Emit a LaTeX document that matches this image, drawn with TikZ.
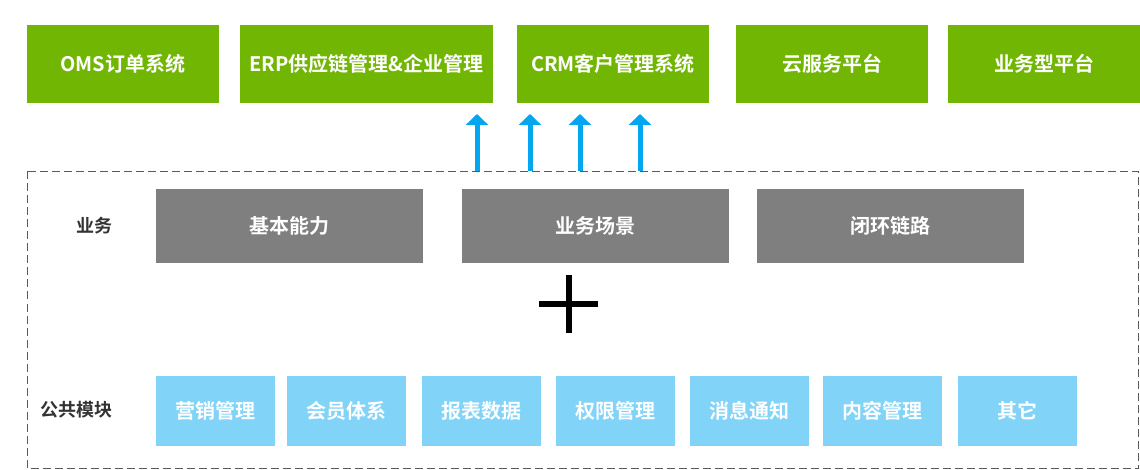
\documentclass[tikz,border=0pt]{standalone}
\usepackage{fontspec}
\newfontfamily\cjk{Noto Sans CJK SC Bold}
\usetikzlibrary{arrows.meta}
\definecolor{sysgreen}{HTML}{70B603}
\definecolor{bizgray}{HTML}{7F7F7F}
\definecolor{modblue}{HTML}{81D3F8}
\definecolor{uparrow}{HTML}{02A7F0}
\definecolor{labeltext}{HTML}{333333}
\definecolor{framegray}{HTML}{595959}

\begin{document}
\begin{tikzpicture}[x=1pt,y=-1pt,
  boxtext/.style={inner sep=0pt, text=white, font=\cjk\fontsize{20}{20}\selectfont},
  sysbox/.style={boxtext, fill=sysgreen, minimum height=78pt, minimum width=#1},
  bizbox/.style={boxtext, fill=bizgray, minimum height=74pt, minimum width=267pt},
  modbox/.style={boxtext, fill=modblue, minimum height=70pt, minimum width=119pt},
  rowlabel/.style={inner sep=0pt, text=labeltext, font=\cjk\fontsize{18}{18}\selectfont},
  uparr/.style={uparrow, line width=5pt, -{Triangle[width=22pt,length=11pt]}}
]
  \useasboundingbox (0,0) rectangle (1140,470);

  % top systems
  \node [sysbox=192pt] (oms) at (123,64)   {OMS订单系统};
  \node [sysbox=253pt] (erp) at (366.5,64) {ERP供应链管理\&企业管理};
  \node [sysbox=192pt] (crm) at (613,64)   {CRM客户管理系统};
  \node [sysbox=192pt] (cloud) at (832,64) {云服务平台};
  \node [sysbox=192pt] (bizp) at (1044,64) {业务型平台};

  % dashed frame
  \draw [framegray, line width=1pt, dash pattern=on 8pt off 4pt] (27.5,171.5) rectangle (1138.5,468.5);

  % arrows up
  \coordinate (a1) at (477,171);  \coordinate (b1) at (477,114);
  \coordinate (a2) at (530,171);  \coordinate (b2) at (530,114);
  \coordinate (a3) at (580,171);  \coordinate (b3) at (580,114);
  \coordinate (a4) at (640,171);  \coordinate (b4) at (640,114);
  \foreach \i in {1,...,4}
    \draw [uparr] (a\i) -- (b\i);

  % business row
  \node [rowlabel] (bizlabel) at (94,226) {业务};
  \node [bizbox] (basic) at (289.5,226) {基本能力};
  \node [bizbox] (scene) at (595,226)   {业务场景};
  \node [bizbox] (loop) at (890.5,226)  {闭环链路};

  % plus sign
  \draw [line width=6pt] (539,304) -- (598,304);
  \draw [line width=6pt] (568.5,275) -- (568.5,333);

  % common modules
  \node [rowlabel] (modlabel) at (76,410) {公共模块};
  \node [modbox] (m1) at (215.5,411)  {营销管理};
  \node [modbox] (m2) at (346.5,411)  {会员体系};
  \node [modbox] (m3) at (481.5,411)  {报表数据};
  \node [modbox] (m4) at (615.5,411)  {权限管理};
  \node [modbox] (m5) at (749.5,411)  {消息通知};
  \node [modbox] (m6) at (882.5,411)  {内容管理};
  \node [modbox] (m7) at (1017.5,411) {其它};
\end{tikzpicture}
\end{document}
